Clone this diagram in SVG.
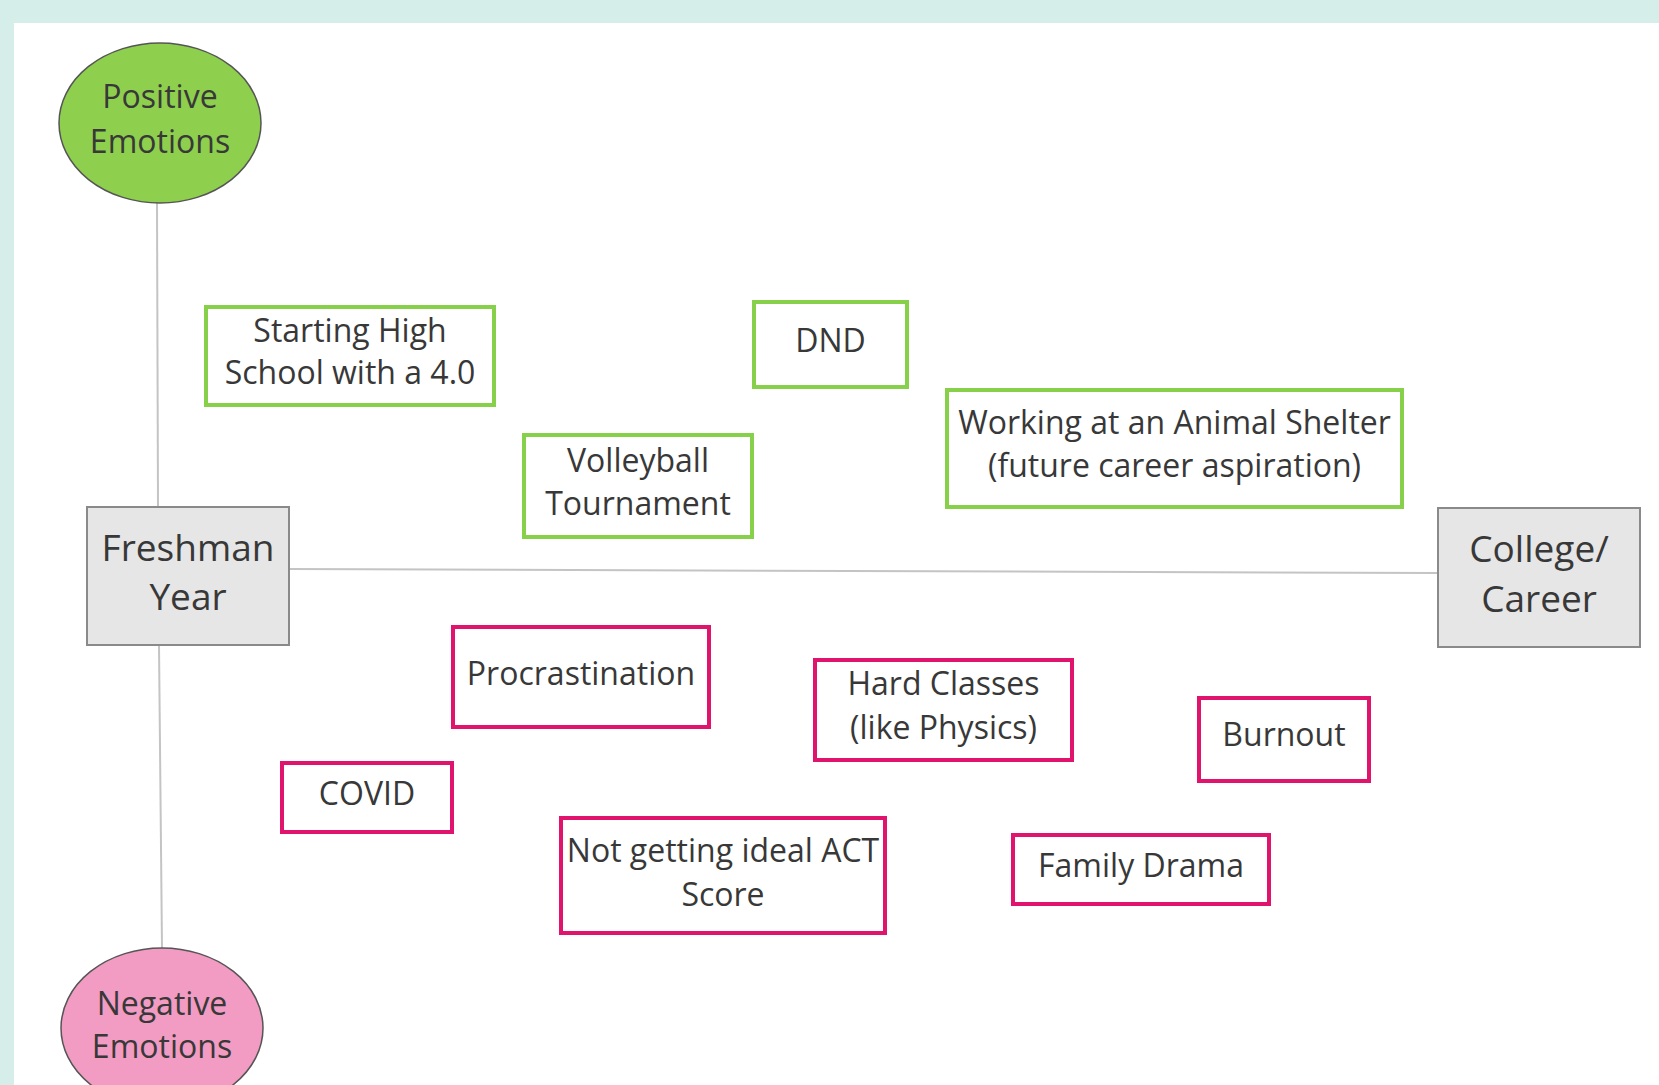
<svg xmlns="http://www.w3.org/2000/svg" width="1659" height="1085" viewBox="0 0 1659 1085">
<style>
text{font-family:"Open Sans","Noto Sans","Liberation Sans",sans-serif;fill:#383838;text-anchor:middle}
.s{font-size:32px}
.m{font-size:37px}
.pos{fill:none;stroke:#86d04a;stroke-width:4}
.neg{fill:none;stroke:#e0146c;stroke-width:4}
.gray{fill:#e6e6e6;stroke:#8a8a8a;stroke-width:2}
.conn{stroke:#c4c4c4;stroke-width:2;fill:none}
</style>
<rect x="0" y="0" width="1659" height="1085" fill="#d6eeea"/>
<rect x="14" y="23" width="1645" height="1062" fill="#fff"/>
<g id="connectors">
<line class="conn" x1="157" y1="203" x2="158" y2="507"/>
<line class="conn" x1="159" y1="645" x2="162" y2="948"/>
<line class="conn" x1="289" y1="569" x2="1438" y2="573"/>
</g>
<g id="positive">
<ellipse cx="160" cy="123" rx="101" ry="80" fill="#8ecf4e" stroke="#555" stroke-width="1.5"/>
<text class="s" x="160" y="108">Positive</text>
<text class="s" x="160" y="153">Emotions</text>
</g>
<g id="negative">
<ellipse cx="162" cy="1028" rx="101" ry="80" fill="#f29bc3" stroke="#555" stroke-width="1.5"/>
<text class="s" x="162" y="1015">Negative</text>
<text class="s" x="162" y="1058">Emotions</text>
</g>
<g id="freshman">
<rect class="gray" x="87" y="507" width="202" height="138"/>
<text class="m" x="188" y="561">Freshman</text>
<text class="m" x="188" y="610">Year</text>
</g>
<g id="college">
<rect class="gray" x="1438" y="508" width="202" height="139"/>
<text class="m" x="1539" y="562">College/</text>
<text class="m" x="1539" y="612">Career</text>
</g>
<g id="starting">
<rect class="pos" x="206" y="307" width="288" height="98"/>
<text class="s" x="350" y="342">Starting High</text>
<text class="s" x="350" y="384">School with a 4.0</text>
</g>
<g id="dnd">
<rect class="pos" x="754" y="302" width="153" height="85"/>
<text class="s" x="830.5" y="352">DND</text>
</g>
<g id="volleyball">
<rect class="pos" x="524" y="435" width="228" height="102"/>
<text class="s" x="638" y="472">Volleyball</text>
<text class="s" x="638" y="515">Tournament</text>
</g>
<g id="shelter">
<rect class="pos" x="947" y="390" width="455" height="117"/>
<text class="s" x="1174.5" y="434">Working at an Animal Shelter</text>
<text class="s" x="1174.5" y="477">(future career aspiration)</text>
</g>
<g id="procrastination">
<rect class="neg" x="453" y="627" width="256" height="100"/>
<text class="s" x="581" y="685">Procrastination</text>
</g>
<g id="hardclasses">
<rect class="neg" x="815" y="660" width="257" height="100"/>
<text class="s" x="943.5" y="695">Hard Classes</text>
<text class="s" x="943.5" y="739">(like Physics)</text>
</g>
<g id="burnout">
<rect class="neg" x="1199" y="698" width="170" height="83"/>
<text class="s" x="1284" y="746">Burnout</text>
</g>
<g id="covid">
<rect class="neg" x="282" y="763" width="170" height="69"/>
<text class="s" x="367" y="805">COVID</text>
</g>
<g id="act">
<rect class="neg" x="561" y="818" width="324" height="115"/>
<text class="s" x="723" y="862">Not getting ideal ACT</text>
<text class="s" x="723" y="906">Score</text>
</g>
<g id="family">
<rect class="neg" x="1013" y="835" width="256" height="69"/>
<text class="s" x="1141" y="877">Family Drama</text>
</g>
</svg>
